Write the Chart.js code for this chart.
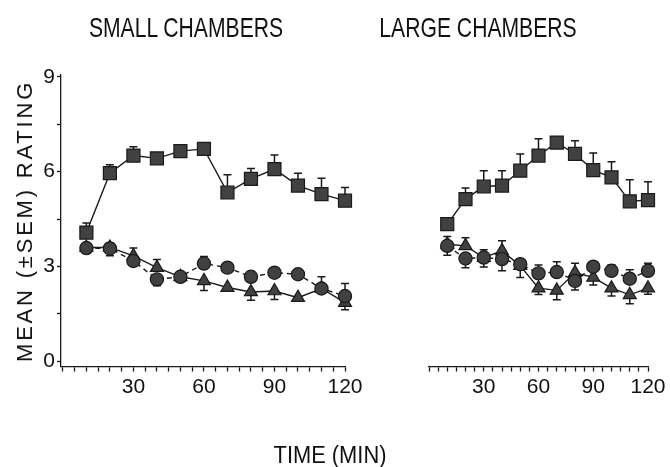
<!DOCTYPE html>
<html>
<head>
<meta charset="utf-8">
<script src="https://cdn.jsdelivr.net/npm/chart.js@4/dist/chart.umd.min.js"></script>
<style>
  html, body { margin: 0; padding: 0; background: #fff; }
  #wrap { position: relative; width: 670px; height: 467px; overflow: hidden; font-family: 'Liberation Sans', Arial, sans-serif; color: #111; }
  #wrap canvas { position: absolute; left: 0; top: 0; }
  .lbl { position: absolute; white-space: nowrap; line-height: 1; }
</style>
</head>
<body>
<div id="wrap">
  <canvas id="chartSmall" width="670" height="467"></canvas>
  <canvas id="chartLarge" width="670" height="467"></canvas>
  <div class="lbl" style="left:186px;top:28px;font-size:28px;transform:translate(-50%,-50%) scaleX(0.755)">SMALL CHAMBERS</div>
  <div class="lbl" style="left:478px;top:28px;font-size:28px;transform:translate(-50%,-50%) scaleX(0.755)">LARGE CHAMBERS</div>
  <div class="lbl" style="left:330px;top:455px;font-size:23px;transform:translate(-50%,-50%) scaleX(0.95)">TIME (MIN)</div>
  <div class="lbl" style="left:25px;top:221px;font-size:22px;letter-spacing:2.8px;transform:translate(-50%,-50%) rotate(-90deg)">MEAN (&plusmn;SEM) RATING</div>
</div>
<script>
/* time points (min) and axis ticks */
var minutes = [10, 20, 30, 40, 50, 60, 70, 80, 90, 100, 110, 120];
var xTicks = [0, 5, 10, 15, 20, 25, 30, 35, 40, 45, 50, 55, 60, 65, 70, 75, 80, 85, 90, 95, 100, 105, 110, 115, 120];
var xLabels = [30, 60, 90, 120];
var yTicks = [0, 1.5, 3, 4.5, 6, 7.5, 9];
var yLabels = [0, 3, 6, 9];

/* small chambers */
var smallSquare      = [4.07, 5.95, 6.51, 6.42, 6.65, 6.72, 5.34, 5.77, 6.08, 5.56, 5.29, 5.08];
var smallSquareErr   = [0.30, 0.27, 0.28, 0.15, 0.15, 0.15, 0.56, 0.33, 0.45, 0.39, 0.50, 0.42];
var smallCircle      = [3.58, 3.57, 3.17, 2.59, 2.67, 3.09, 2.96, 2.67, 2.80, 2.75, 2.30, 2.06];
var smallCircleErr   = [0.15, 0.23, 0.15, 0.20, 0.12, 0.22, 0.12, 0.15, 0.12, 0.12, 0.37, 0.40];
var smallTriangle    = [3.60, 3.60, 3.33, 2.96, 2.67, 2.54, 2.33, 2.19, 2.22, 2.01, 2.30, 1.85];
var smallTriangleErr = [0.12, 0.15, 0.25, 0.26, 0.12, 0.30, 0.12, 0.26, 0.27, 0.10, 0.12, 0.22];

/* large chambers */
var largeSquare      = [4.34, 5.13, 5.53, 5.56, 6.03, 6.51, 6.92, 6.56, 6.05, 5.82, 5.06, 5.10];
var largeSquareErr   = [0.10, 0.35, 0.50, 0.47, 0.53, 0.53, 0.10, 0.42, 0.54, 0.49, 0.68, 0.58];
var largeCircle      = [3.65, 3.25, 3.28, 3.23, 3.07, 2.78, 2.82, 2.54, 2.99, 2.86, 2.61, 2.86];
var largeCircleErr   = [0.30, 0.29, 0.25, 0.37, 0.15, 0.26, 0.33, 0.29, 0.12, 0.19, 0.28, 0.24];
var largeTriangle    = [3.70, 3.65, 3.28, 3.49, 3.02, 2.31, 2.24, 2.80, 2.65, 2.31, 2.10, 2.31];
var largeTriangleErr = [0.25, 0.26, 0.30, 0.32, 0.37, 0.20, 0.30, 0.30, 0.24, 0.25, 0.28, 0.19];

var INK = '#1a1a1a', FILL = '#414141';
var FONT = "'Liberation Sans', Arial, sans-serif";

function pts(vals) {
  return vals.map(function (v, i) { return { x: minutes[i], y: v }; });
}

/* error bars: squares go up only; circle/triangle pair point away from each other */
var errorBars = {
  id: 'errorBars',
  beforeDatasetsDraw: function (chart) {
    var ctx = chart.ctx, xs = chart.scales.x, ys = chart.scales.y;
    var sets = chart.data.datasets;
    ctx.save();
    ctx.strokeStyle = INK;
    ctx.lineWidth = 1.5;
    sets.forEach(function (ds) {
      ds.data.forEach(function (p, j) {
        var dir = 1;
        if (ds.errPair != null) {
          var o = sets[ds.errPair].data[j].y;
          dir = p.y > o ? 1 : (p.y < o ? -1 : ds.errTie);
        }
        var px = xs.getPixelForValue(p.x);
        var y0 = ys.getPixelForValue(p.y);
        var y1 = ys.getPixelForValue(p.y + dir * ds.err[j]);
        ctx.beginPath();
        ctx.moveTo(px, y0); ctx.lineTo(px, y1);
        ctx.moveTo(px - 4, y1); ctx.lineTo(px + 4, y1);
        ctx.stroke();
      });
    });
    ctx.restore();
  }
};

function makeChart(id, sq, sqErr, ci, ciErr, tr, trErr, showY, padLeft, padRight) {
  return new Chart(document.getElementById(id), {
    type: 'line',
    data: {
      datasets: [
        { data: pts(sq), err: sqErr, order: 3, borderColor: INK, borderWidth: 1.4, backgroundColor: FILL,
          pointStyle: 'rect', pointRadius: 9.2, pointBorderColor: INK, pointBorderWidth: 1.2, pointBackgroundColor: FILL, clip: false },
        { data: pts(ci), err: ciErr, errPair: 2, errTie: 1, order: 1, borderColor: INK, borderWidth: 1.4, borderDash: [5, 4],
          pointStyle: 'circle', pointRadius: 6.6, pointBorderColor: INK, pointBorderWidth: 1.2, pointBackgroundColor: FILL, clip: false },
        { data: pts(tr), err: trErr, errPair: 1, errTie: -1, order: 2, borderColor: INK, borderWidth: 1.4,
          pointStyle: 'triangle', pointRadius: 7.5, pointBorderColor: INK, pointBorderWidth: 1.2, pointBackgroundColor: FILL, clip: false }
      ]
    },
    options: {
      responsive: false,
      animation: false,
      layout: { padding: { left: padLeft, right: padRight, top: 75, bottom: 0 } },
      plugins: { legend: { display: false }, tooltip: { enabled: false } },
      scales: {
        x: {
          type: 'linear',
          min: showY ? -0.8 : 0, max: 120,
          afterBuildTicks: function (s) { s.ticks = xTicks.map(function (v) { return { value: v }; }); },
          afterFit: function (s) { s.height = 100.5; },
          grid: { drawOnChartArea: false, tickLength: 5, tickWidth: 1.3, tickColor: INK },
          border: { display: true, color: INK, width: 1.3 },
          ticks: {
            autoSkip: false, maxRotation: 0, padding: 3, color: '#111',
            font: { family: FONT, size: 21 },
            callback: function (v) { return xLabels.indexOf(v) >= 0 ? String(v) : ''; }
          }
        },
        y: {
          display: showY,
          min: -0.17, max: 9.06,
          afterBuildTicks: function (s) { s.ticks = yTicks.map(function (v) { return { value: v }; }); },
          afterFit: function (s) { s.width = 61; },
          grid: { drawOnChartArea: false, tickLength: 4, tickWidth: 1.3, tickColor: INK },
          border: { display: true, color: INK, width: 1.3 },
          ticks: {
            padding: 2, color: '#111',
            font: { family: FONT, size: 21 },
            callback: function (v) { return yLabels.indexOf(v) >= 0 ? String(v) : ''; }
          }
        }
      }
    },
    plugins: [errorBars]
  });
}

makeChart('chartSmall', smallSquare, smallSquareErr, smallCircle, smallCircleErr, smallTriangle, smallTriangleErr, true, 0, 325);
makeChart('chartLarge', largeSquare, largeSquareErr, largeCircle, largeCircleErr, largeTriangle, largeTriangleErr, false, 368, 22);
</script>
</body>
</html>
